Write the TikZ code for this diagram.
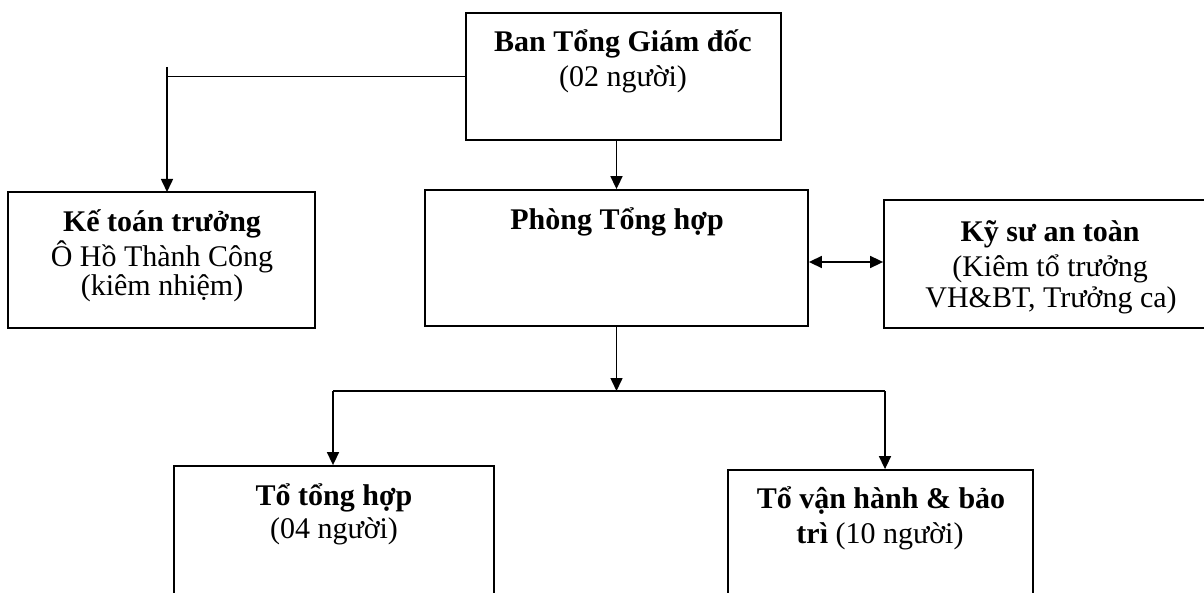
\documentclass[tikz,border=0pt]{standalone}
\usepackage{fontspec}
\setmainfont{Liberation Serif}
\usetikzlibrary{arrows.meta}
\begin{document}
\begin{tikzpicture}[x=1pt,y=-1pt,
  box/.style={draw, line width=1.8pt, inner sep=0pt, rectangle},
  txt/.style={anchor=base, inner sep=0pt, font=\fontsize{30}{35}\selectfont},
  btxt/.style={txt, font=\fontsize{30}{35}\selectfont\bfseries},
  conn/.style={line width=1.6pt},
  arr/.style={conn, -{Triangle[length=13pt,width=12pt]}},
  dbl/.style={conn, {Triangle[length=13pt,width=12pt]}-{Triangle[length=13pt,width=12pt]}}]
\useasboundingbox (0,0) rectangle (1204,593);
\fill[white] (0,0) rectangle (1204,593);
\clip (0,0) rectangle (1204,593);
% boxes
\node[box, minimum width=315pt, minimum height=127pt] (top) at (623.5,76.5) {};
\node[box, minimum width=307pt, minimum height=136pt] (ketoan) at (161.5,260) {};
\node[box, minimum width=383pt, minimum height=136pt] (phong) at (616.5,258) {};
\node[box, minimum width=340pt, minimum height=128pt] (kysu) at (1054,264) {};
\node[box, minimum width=320pt, minimum height=174pt] (tth) at (334,553) {};
\node[box, minimum width=305pt, minimum height=170pt] (tvh) at (880.5,555) {};
% texts
\node[btxt] (t1) at (623,52) {Ban Tổng Giám đốc};
\node[txt] (t2) at (623,87) {(02 người)};
\node[btxt] (k1) at (162,232) {Kế toán trưởng};
\node[txt] (k2) at (162,267) {Ô Hồ Thành Công};
\node[txt] (k3) at (162,296) {(kiêm nhiệm)};
\node[btxt] (p1) at (617,230) {Phòng Tổng hợp};
\node[btxt] (s1) at (1050,242) {Kỹ sư an toàn};
\node[txt] (s2) at (1050,277) {(Kiêm tổ trưởng};
\node[txt] (s3) at (1051,308) {VH\&BT, Trưởng ca)};
\node[btxt] (h1) at (334,505) {Tổ tổng hợp};
\node[txt] (h2) at (334,538) {(04 người)};
\node[btxt] (v1) at (881,508) {Tổ vận hành \& bảo};
\node[txt] (v2) at (880,543) {\textbf{trì} (10 người)};
% connectors
\coordinate (kin) at (167,192);
\coordinate (ktop) at (167,67);
\draw[arr] (top.west) -| (kin);
\draw[conn] (ktop) -- (167,78);
\draw[arr] (phong.north |- top.south) -- (phong.north);
\draw[dbl] (phong.east |- 0,262) -- (kysu.west |- 0,262);
\coordinate (bl) at (333,391);
\coordinate (br) at (885,391);
\draw[arr] (phong.south) -- (phong.south |- bl);
\draw[conn] (bl) -- (br);
\draw[arr] (bl) -- (bl |- tth.north);
\draw[arr] (br) -- (br |- tvh.north);
\end{tikzpicture}
\end{document}
